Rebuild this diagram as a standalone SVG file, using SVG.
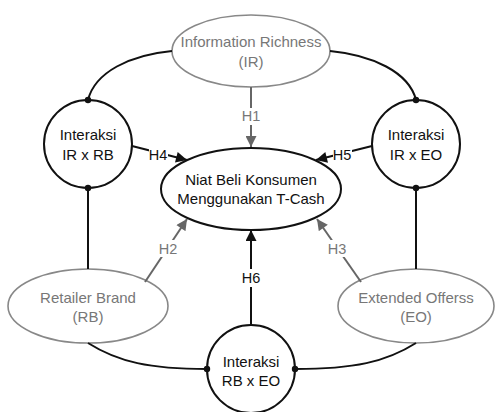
<svg xmlns="http://www.w3.org/2000/svg" width="495" height="412" viewBox="0 0 495 412">
<style>
.t{font-family:"Liberation Sans",Arial,sans-serif;font-size:15px;text-anchor:middle}
.blk{fill:#111}
.gry{fill:#777}
.lab{font-family:"Liberation Sans",Arial,sans-serif;font-size:14.5px;text-anchor:middle;dominant-baseline:central}
.nb{fill:#fff;stroke:#111;stroke-width:2}
.ng{fill:#fff;stroke:#888;stroke-width:1.6}
.cb{fill:none;stroke:#111;stroke-width:2}
.cg{fill:none;stroke:#666;stroke-width:2}
.dot{fill:#111}
</style>
<defs>
<marker id="ab" viewBox="0 0 10 10" refX="10" refY="5" markerWidth="6" markerHeight="5.5" markerUnits="strokeWidth" orient="auto"><path d="M0,0L10,5L0,10z" fill="#111"/></marker>
<marker id="ag" viewBox="0 0 10 10" refX="10" refY="5" markerWidth="6" markerHeight="5.5" markerUnits="strokeWidth" orient="auto"><path d="M0,0L10,5L0,10z" fill="#666"/></marker>
</defs>
<g id="IR">
<ellipse class="ng" cx="251" cy="51" rx="79" ry="36"/>
<text class="t gry" x="251" y="47">Information Richness</text>
<text class="t gry" x="251" y="67">(IR)</text>
</g>
<g id="IRxRB">
<circle class="nb" cx="88" cy="144" r="44"/>
<text class="t blk" x="88" y="140">Interaksi</text>
<text class="t blk" x="88" y="160">IR x RB</text>
</g>
<g id="IRxEO">
<circle class="nb" cx="416" cy="144" r="44"/>
<text class="t blk" x="416" y="140">Interaksi</text>
<text class="t blk" x="416" y="160">IR x EO</text>
</g>
<g id="NB">
<ellipse class="nb" cx="251" cy="189" rx="90" ry="41"/>
<text class="t blk" x="251" y="185">Niat Beli Konsumen</text>
<text class="t blk" x="251" y="204">Menggunakan T-Cash</text>
</g>
<g id="RB">
<ellipse class="ng" cx="88" cy="306" rx="80" ry="37"/>
<text class="t gry" x="88" y="303">Retailer Brand</text>
<text class="t gry" x="88" y="322">(RB)</text>
</g>
<g id="EO">
<ellipse class="ng" cx="416" cy="306" rx="78" ry="37"/>
<text class="t gry" x="416" y="303">Extended Offerss</text>
<text class="t gry" x="416" y="322">(EO)</text>
</g>
<g id="RBxEO">
<circle class="nb" cx="251" cy="369" r="44"/>
<text class="t blk" x="251" y="367">Interaksi</text>
<text class="t blk" x="251" y="386">RB x EO</text>
</g>
<g id="connectors">
<path class="cb" d="M172,51 C130,55 95,72 88,100"/>
<path class="cb" d="M330,51 C372,55 409,72 416,100"/>
<path class="cb" d="M88,188 L88,269"/>
<path class="cb" d="M416,188 L416,269"/>
<path class="cb" d="M88,343 C118,362 150,369 207,369"/>
<path class="cb" d="M416,343 C386,362 354,369 295,369"/>
<path class="cg" d="M251,87 L251,147" marker-end="url(#ag)"/>
<path class="cb" d="M132,146 L187,160" marker-end="url(#ab)"/>
<path class="cb" d="M372,146 L316,160" marker-end="url(#ab)"/>
<path class="cg" d="M145,282 L187,219" marker-end="url(#ag)"/>
<path class="cg" d="M361,282 L317,219" marker-end="url(#ag)"/>
<path class="cb" d="M251,325 L251,230" marker-end="url(#ab)"/>
<rect x="242" y="108" width="18" height="17" fill="#fff"/>
<text class="lab gry" x="251" y="116">H1</text>
<rect x="149" y="147" width="19" height="16" fill="#fff"/>
<text class="lab blk" x="158" y="155">H4</text>
<rect x="333" y="147" width="19" height="16" fill="#fff"/>
<text class="lab blk" x="342" y="155">H5</text>
<rect x="158" y="240" width="19" height="17" fill="#fff"/>
<text class="lab gry" x="168" y="249">H2</text>
<rect x="327" y="240" width="19" height="17" fill="#fff"/>
<text class="lab gry" x="337" y="249">H3</text>
<rect x="241" y="269" width="19" height="18" fill="#fff"/>
<text class="lab blk" x="251" y="278">H6</text>
<circle class="dot" cx="88" cy="100" r="3.2"/>
<circle class="dot" cx="416" cy="100" r="3.2"/>
<circle class="dot" cx="88" cy="188" r="3.2"/>
<circle class="dot" cx="416" cy="188" r="3.2"/>
<circle class="dot" cx="207" cy="369" r="3.2"/>
<circle class="dot" cx="295" cy="369" r="3.2"/>
</g>
</svg>
